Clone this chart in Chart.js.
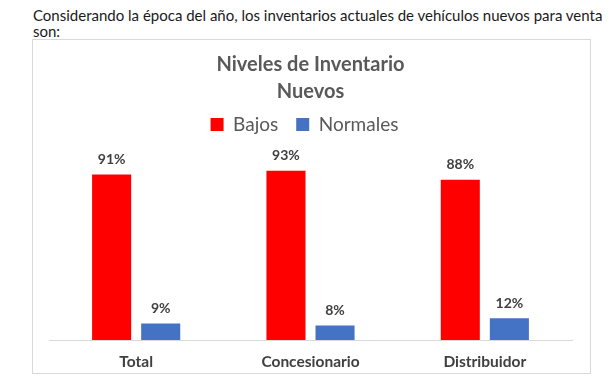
<!DOCTYPE html>
<html>
<head>
<meta charset="utf-8">
<script src="https://cdn.jsdelivr.net/npm/chart.js@4/dist/chart.umd.min.js"></script>
<style>
  html, body { margin: 0; padding: 0; background: #fff; }
  body { width: 612px; height: 376px; position: relative; overflow: hidden; }
  #hdr { position: absolute; left: 33px; top: 7px; width: 575px; font-family: Lato, "Open Sans", sans-serif; font-size: 15px; line-height: 16px; color: #1a1a1a; }
  #box { position: absolute; left: 32px; top: 39px; width: 557px; height: 333px; border: 1px solid #d9d9d9; background: #fff; }
  #c { display: block; }
</style>
</head>
<body>
<div id="hdr">Considerando la época del año, los inventarios actuales de vehículos nuevos para venta son:</div>
<div id="box"><canvas id="c" width="557" height="333"></canvas></div>
<script>
const categories = ["Total", "Concesionario", "Distribuidor"];
const bajos = [91, 93, 88];
const normales = [9, 8, 12];
const seriesNames = ["Bajos", "Normales"];
const titleLines = ["Niveles de Inventario", "Nuevos"];

const labelPlugin = {
  id: 'valueLabels',
  afterDatasetsDraw(chart) {
    const ctx = chart.ctx;
    ctx.save();
    ctx.font = 'bold 14px Lato, "Open Sans", sans-serif';
    ctx.fillStyle = '#404040';
    ctx.textAlign = 'center';
    ctx.textBaseline = 'bottom';
    chart.data.datasets.forEach((ds, i) => {
      const meta = chart.getDatasetMeta(i);
      meta.data.forEach((bar, j) => {
        ctx.fillText(ds.data[j] + '%', bar.x, bar.y - 8);
      });
    });
    ctx.restore();
  }
};

const legendMargin = {
  id: 'legendMargin',
  beforeInit(chart) {
    const fit = chart.legend.fit;
    chart.legend.fit = function () {
      fit.bind(chart.legend)();
      this.height += 14;
    };
  },
  afterLayout(chart) {
    chart.legend.left -= 6;
    chart.legend.right -= 6;
  }
};

new Chart(document.getElementById('c'), {
  type: 'bar',
  data: {
    labels: categories,
    datasets: [
      { label: seriesNames[0], data: bajos, backgroundColor: '#FF0000', barPercentage: 0.796, categoryPercentage: 0.563 },
      { label: seriesNames[1], data: normales, backgroundColor: '#4472C4', barPercentage: 0.796, categoryPercentage: 0.563 }
    ]
  },
  options: {
    responsive: false,
    animation: false,
    layout: { padding: { left: 16, right: 18, top: 0, bottom: 0 } },
    plugins: {
      title: {
        display: true,
        text: titleLines,
        color: '#595959',
        font: { family: 'Lato, "Open Sans", sans-serif', size: 20, weight: 'bold', lineHeight: 1.35 },
        padding: { top: 11, bottom: -8 }
      },
      legend: {
        display: true,
        position: 'top',
        labels: {
          color: '#595959',
          font: { family: 'Lato, "Open Sans", sans-serif', size: 19 },
          boxWidth: 13, boxHeight: 13, padding: 18
        }
      },
      tooltip: { enabled: false }
    },
    scales: {
      x: {
        grid: { display: false, drawTicks: false },
        border: { display: true, color: '#d9d9d9', width: 1 },
        ticks: { color: '#404040', font: { family: 'Lato, "Open Sans", sans-serif', size: 15.5, weight: 'bold' }, padding: 13 },
        afterFit(scale) { scale.height = 33; }
      },
      y: {
        display: false,
        min: 0, max: 100
      }
    }
  },
  plugins: [labelPlugin, legendMargin]
});
</script>
</body>
</html>
